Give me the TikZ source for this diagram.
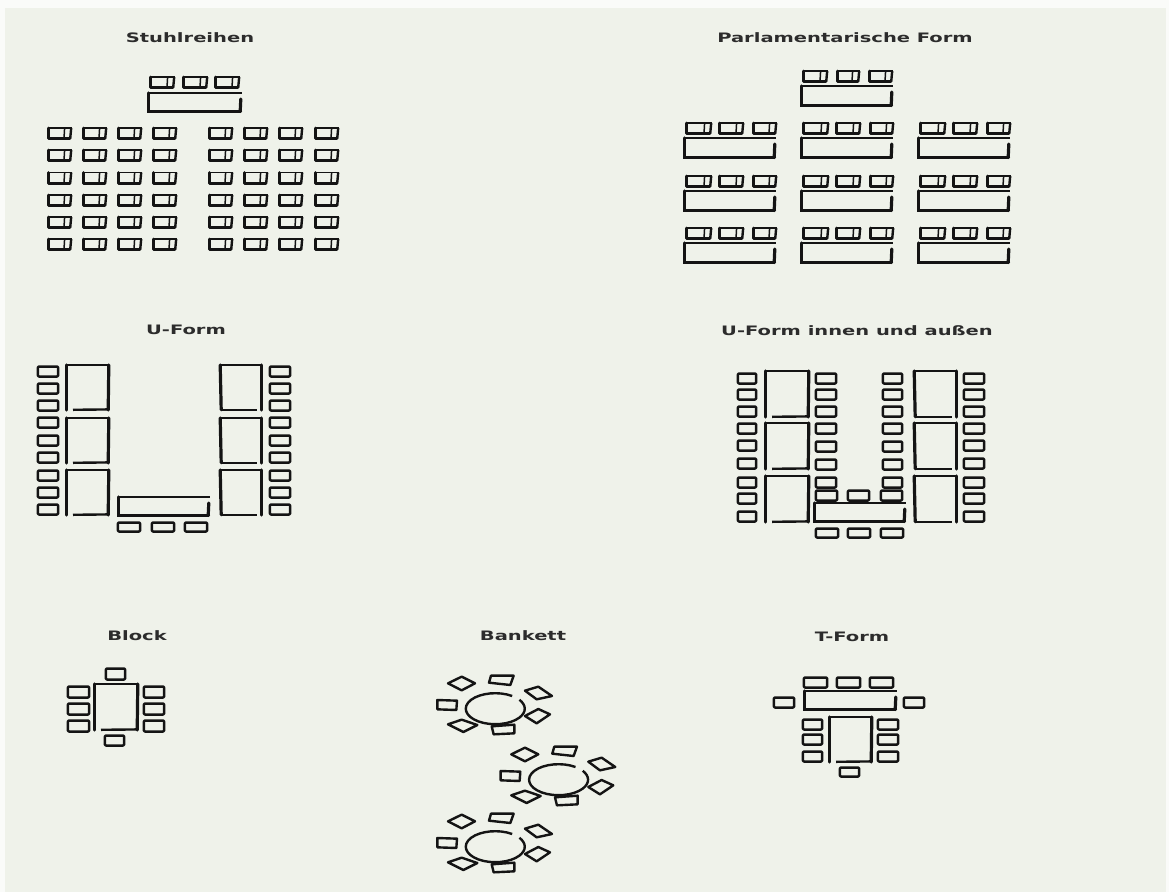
\documentclass[tikz,border=0pt]{standalone}
\usepackage{fontspec}
\setmainfont{DejaVu Sans}
\definecolor{paper}{HTML}{EFF2EA}
\definecolor{ink}{HTML}{141414}
\tikzset{
  lbl/.style={font=\bfseries\fontsize{13pt}{15pt}\selectfont,text=ink!90!white,inner sep=0pt,anchor=center,xscale=1.5},
  thinl/.style={draw=ink,line width=1.6pt},
  medl/.style={draw=ink,line width=2.4pt},
  thickl/.style={draw=ink,line width=3.2pt,line cap=round},
  seat/.style={draw=ink,line width=2.5pt,rounded corners=1pt,line join=round},
  banq/.style={draw=ink,line width=2.4pt,line join=round},
}
% seat in a row (opening slanted side at the right)
\newcommand{\rowseat}[4]{%
  \draw[thinl] (#1+1,#2) -- (#3,#2);
  \draw[draw=ink,line width=2.9pt,line cap=round,line join=round] (#1+1.2,#2) -- (#1+1.2,#4-0.4) -- (#3-2,#4-0.4);
  \draw[medl] (#3-0.8,#2) -- (#3-1.8,#4-0.4);
  \draw[draw=ink,line width=1.5pt] (#3-7.4,#2) -- (#3-8,#4-0.4);
}
% seat beside a table
\newcommand{\sideseat}[4]{\draw[seat] (#1+0.9,#2+0.5) rectangle (#3-0.9,#4-0.5);}
% table, wide
\newcommand{\tabh}[4]{%
  \draw[thinl] (#1+1,#2+1) -- (#3,#2+1);
  \draw[thickl] (#1+1.5,#2+1) -- (#1+1.5,#4-1.5) -- (#3-1.5,#4-1.5);
  \draw[thickl] (#3-1.2,#2+7) -- (#3-1.8,#4-1.5);
}
% table, tall, left hand side of a pair
\newcommand{\tabl}[4]{%
  \draw[thickl] (#1+1.5,#2+1) -- (#1+1.5,#4-1);
  \draw[medl] (#1+1,#2+1) -- (#3-1,#2+1);
  \draw[thickl] (#3-1.2,#2+1) -- (#3-1.8,#4-1);
  \draw[medl] (#1+8,#4-1.2) -- (#3-1,#4-1.6);
}
% table, tall, right hand side of a pair
\newcommand{\tabr}[4]{%
  \draw[thickl] (#3-1.5,#2+1) -- (#3-1.5,#4-1);
  \draw[medl] (#1+1,#2+1) -- (#3-1,#2+1);
  \draw[thickl] (#1+1.2,#2+1) -- (#1+2.2,#4-1.2);
  \draw[medl] (#1+2,#4-1.2) -- (#3-6,#4-1.2);
}
\newcommand{\roundtable}[2]{%
  \begin{scope}[shift={(#1,#2)},x=0.3333pt,y=-0.3333pt]
    \draw[banq] (225+51.6,255-27) arc[start angle=55,end angle=395,x radius=29.5pt,y radius=15.5pt];
    \draw[banq] (52,240) -- (111,242) -- (109,270) -- (52,268) -- cycle;
    \draw[banq] (213,167) -- (281,167) -- (271,195) -- (207,188) -- cycle;
    \draw[banq] (315,212) -- (355,200) -- (396,228) -- (350,238) -- cycle;
    \draw[banq] (315,288) -- (355,267) -- (390,283) -- (350,310) -- cycle;
    \draw[banq] (84,313) -- (125,299) -- (172,315) -- (130,336) -- cycle;
    \draw[banq] (84,190) -- (125,170) -- (165,190) -- (125,211) -- cycle;
    \draw[banq] (215,319) -- (283,314) -- (283,340) -- (221,343) -- cycle;
  \end{scope}}
\begin{document}
\begin{tikzpicture}[x=1pt,y=-1pt]
\useasboundingbox (0,0) rectangle (1169,892);
\fill[white!70!paper] (0,0) rectangle (1169,892);
\fill[paper] (5,8) rectangle (1166,892);

\node[lbl] (t1) at (190,38) {Stuhlreihen};
\node[lbl] (t2) at (845,38) {Parlamentarische Form};
\node[lbl] (t3) at (186,330) {U-Form};
\node[lbl] (t4) at (857,331) {U-Form innen und außen};
\node[lbl] (t5) at (137,636) {Block};
\node[lbl] (t6) at (523,636) {Bankett};
\node[lbl] (t7) at (852,637) {T-Form};

% Stuhlreihen
\tabh{147}{92}{242}{113}
\foreach \x in {149,182,214} \rowseat{\x}{77}{\x+26}{88};
\foreach \y in {128,150,172.5,195,217,239}
  \foreach \x in {47,82,117,152,208,243,278,314} \rowseat{\x}{\y}{\x+25}{\y+11};

% Parlamentarische Form
\tabh{800}{85}{893}{107}
\foreach \x/\w in {802/26,836/24,868/25} \rowseat{\x}{71}{\x+\w}{82};
\foreach \c in {683,800,917}
  \foreach \y in {137,190,242} {
    \tabh{\c}{\y}{\c+93}{\y+22}
    \foreach \d/\w in {2/27,35/26,69/25} \rowseat{\c+\d}{\y-14}{\c+\d+\w}{\y-3};
  }

% U-Form
\foreach \y in {364,417,469} { \tabl{65}{\y}{110}{\y+47} \tabr{219}{\y}{263}{\y+47} }
\foreach \y in {366,383,400,417,435,452,470,487,504} {
  \sideseat{37}{\y}{59}{\y+11} \sideseat{269}{\y}{291}{\y+11} }
\tabh{117}{496}{210}{517}
\foreach \x in {117,151,184} \sideseat{\x}{522}{\x+24}{532};

% U-Form innen und aussen
\foreach \y in {370,422,475} { \tabl{764}{\y}{810}{\y+48} \tabr{913}{\y}{958}{\y+48} }
\foreach \y in {373,389,406,423,440,458,477,493,511} {
  \sideseat{737}{\y}{757}{\y+11} \sideseat{963}{\y}{985}{\y+11} }
\foreach \y in {373,389,406,423,441,459,477} {
  \sideseat{815}{\y}{837}{\y+11} \sideseat{882}{\y}{903}{\y+11} }
\foreach \x in {815,847,880} \sideseat{\x}{490}{\x+23}{501};
\fill[paper] (814,502) rectangle (906,523);
\tabh{813}{502}{906}{523}
\foreach \x in {815,847,880} \sideseat{\x}{528}{\x+24}{538};

% Block
\tabl{93}{683}{139}{731}
\sideseat{105}{668}{126}{680}
\sideseat{104}{735}{125}{746}
\foreach \y in {686,703,720} { \sideseat{67}{\y}{90}{\y+12} \sideseat{143}{\y}{165}{\y+12} }

% Bankett
\roundtable{420}{620}
\roundtable{483.3}{691}
\roundtable{420}{758}

% T-Form
\tabh{803}{690}{897}{711}
\foreach \x in {803,836,869} \sideseat{\x}{677}{\x+25}{688};
\sideseat{773}{697}{795}{708}
\sideseat{903}{697}{925}{708}
\tabl{828}{716}{873}{763}
\foreach \y in {719,734,751} { \sideseat{802}{\y}{823}{\y+11} \sideseat{877}{\y}{899}{\y+11} }
\sideseat{839}{767}{860}{777}
\end{tikzpicture}
\end{document}
